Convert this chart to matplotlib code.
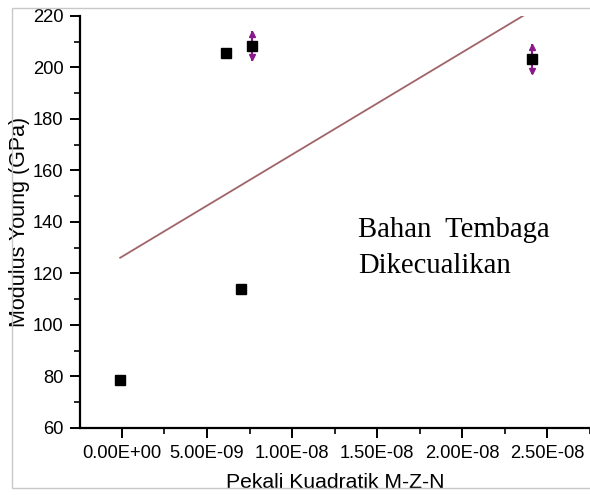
import matplotlib
matplotlib.use("Agg")
import numpy as np
import matplotlib.pyplot as plt
from matplotlib.ticker import MultipleLocator, FuncFormatter
from matplotlib.patches import Rectangle

# Quadratic M-Z-N coefficient vs Young's modulus
coef = np.array([-1.0e-10, 6.10e-9, 7.02e-9, 7.65e-9, 2.408e-8])
modulus = np.array([78.6, 205.5, 113.9, 208.5, 203.3])
modulus_err = np.array([0.0, 0.0, 0.0, 5.8, 5.8])

# linear fit shown on the chart
fit_intercept = 126.5
fit_slope = 3.97e9

plt.rcParams['font.family'] = ['Liberation Sans', 'DejaVu Sans']

fig = plt.figure(figsize=(5.9, 4.95), dpi=100)
ax = fig.add_axes([0.1356, 0.1354, 0.8644, 0.8323])

# outer frame
fig.patches.append(Rectangle((12 / 590, 7 / 495), 1.0, 480 / 495, transform=fig.transFigure,
                             fill=False, edgecolor='#c8c8c8', linewidth=1.0))

fit_x = np.array([coef.min(), coef.max()])
ax.plot(fit_x, fit_intercept + fit_slope * fit_x, color='#a06468', linewidth=1.3, zorder=2)

has_err = modulus_err > 0
ax.errorbar(coef[has_err], modulus[has_err], yerr=modulus_err[has_err], fmt='none',
            ecolor='#8a1a8c', elinewidth=1.5, capsize=0, zorder=3)
ax.plot(coef[has_err], modulus[has_err] + modulus_err[has_err] - 1.2, '^', color='#8a1a8c',
        markersize=4.5, zorder=3)
ax.plot(coef[has_err], modulus[has_err] - modulus_err[has_err] + 1.2, 'v', color='#8a1a8c',
        markersize=4.5, zorder=3)
ax.plot(coef, modulus, 's', color='black', markersize=7, zorder=4)

ax.set_xlim(-2.46e-9, 2.75e-8)
ax.set_ylim(60, 220)

ax.spines['top'].set_visible(False)
ax.spines['right'].set_visible(False)
for side in ['left', 'bottom']:
    ax.spines[side].set_linewidth(1.6)

ax.xaxis.set_major_locator(MultipleLocator(5e-9))
ax.xaxis.set_minor_locator(MultipleLocator(2.5e-9))
ax.yaxis.set_major_locator(MultipleLocator(20))
ax.yaxis.set_minor_locator(MultipleLocator(10))
ax.xaxis.set_major_formatter(FuncFormatter(lambda v, p: f"{v:.2E}"))

ax.tick_params(which='major', direction='out', length=7, width=1.4, labelsize=13.2, pad=5)
ax.tick_params(which='minor', direction='out', length=4, width=1.2)

ax.set_xlabel('Pekali Kuadratik M-Z-N', fontsize=15.2, labelpad=8)
ax.set_ylabel('Modulus Young (GPa)', fontsize=15.5, labelpad=2)

fig.text(358 / 590, 1 - 237 / 495, 'Bahan  Tembaga', fontsize=20.6, family='Liberation Serif',
         va='baseline', ha='left')
fig.text(358 / 590, 1 - 273 / 495, 'Dikecualikan', fontsize=20.6, family='Liberation Serif',
         va='baseline', ha='left')

fig.savefig('out.png', dpi=100)
